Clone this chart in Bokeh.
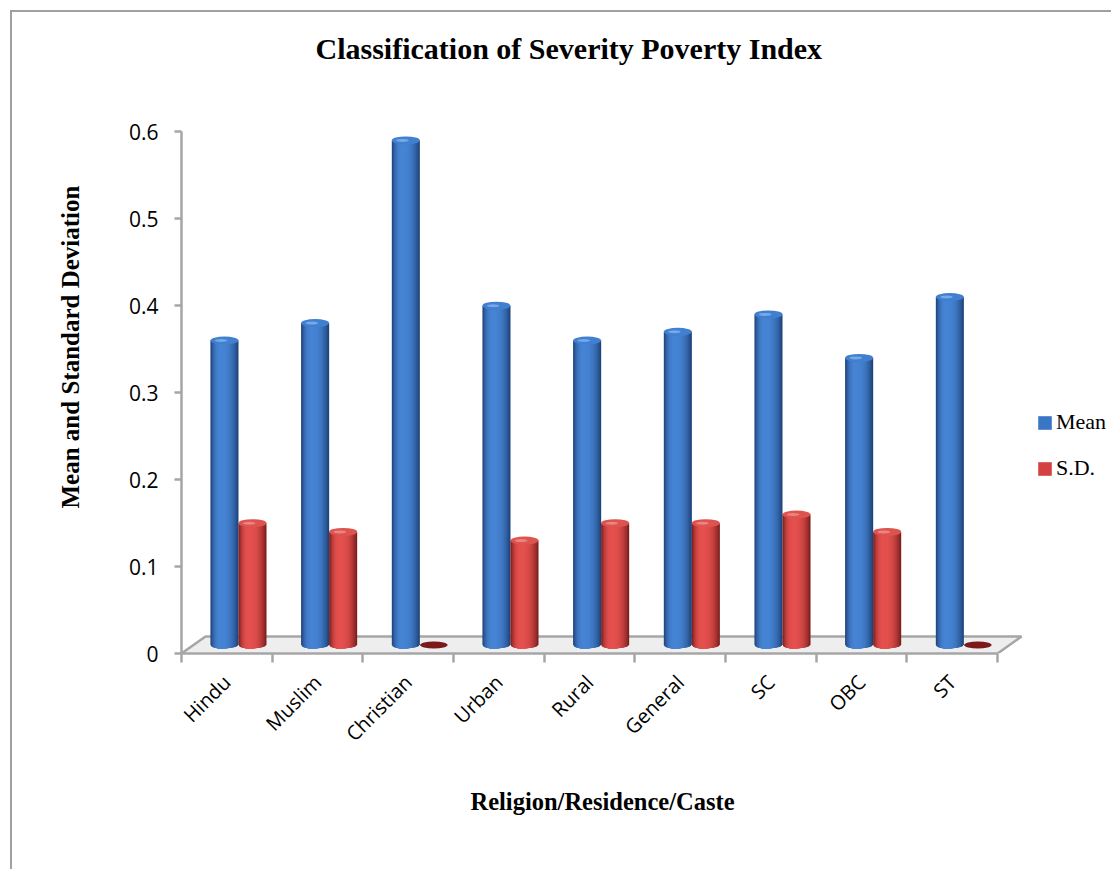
import numpy as np
from bokeh.plotting import figure
from bokeh.models import (Range1d, FixedTicker, Legend, LegendItem,
                          ColumnDataSource, Title)
from bokeh.embed import file_html
from bokeh.resources import INLINE

# ---- data -------------------------------------------------------------
categories = ["Hindu", "Muslim", "Christian", "Urban", "Rural",
              "General", "SC", "OBC", "ST"]
mean_vals = [0.35, 0.37, 0.58, 0.39, 0.35, 0.36, 0.38, 0.33, 0.40]
sd_vals = [0.14, 0.13, 0.0, 0.12, 0.14, 0.14, 0.15, 0.13, 0.0]
y_ticks = [0, 0.1, 0.2, 0.3, 0.4, 0.5, 0.6]
y_tick_labels = ["0", "0.1", "0.2", "0.3", "0.4", "0.5", "0.6"]

# ---- geometry (pixels) -------------------------------------------------
FIG_W, FIG_H = 1101, 859
FRAME_LEFT, FRAME_TOP, FRAME_BOTTOM = 169, 68, 218
FRAME_W = FIG_W - FRAME_LEFT
FRAME_H = FIG_H - FRAME_TOP - FRAME_BOTTOM
PX_PER_CAT = 90.67
PX_PER_UNIT = 870.0

n_cat = len(categories)
x_end = FRAME_W / PX_PER_CAT
y_end = FRAME_H / PX_PER_UNIT

# pseudo-3D floor depth and bar placement (category / value units)
DEPTH_X = 0.265
DEPTH_Y = 17.0 / PX_PER_UNIT
BASE = DEPTH_Y / 2
BAR_W = 0.309
MEAN_POS = 0.474
SD_POS = 0.783
CAP_H = 8  # screen px

GRAY = "#A6A6A6"
SERIF = "Liberation Serif"

p = figure(width=FIG_W, height=FIG_H,
           x_range=Range1d(0, x_end), y_range=Range1d(0, y_end),
           min_border_left=FRAME_LEFT, min_border_right=0,
           min_border_top=FRAME_TOP, min_border_bottom=FRAME_BOTTOM,
           output_backend="svg", toolbar_location=None,
           title="Classification of Severity Poverty Index")
p.margin = (10, 0, 0, 10)
p.styles = {"border-top": "2px solid #A0A0A0",
            "border-left": "2px solid #A0A0A0"}
p.outline_line_color = None
p.xgrid.visible = False
p.ygrid.visible = False
p.background_fill_color = "white"
p.border_fill_color = "white"

# title
p.title.align = "left"
p.title.offset = 134
p.title.text_font = SERIF
p.title.text_font_size = "30px"
p.title.text_font_style = "bold"
p.title.text_color = "black"
p.title.standoff = 31

# floor
p.patch([0, n_cat, n_cat + DEPTH_X, DEPTH_X], [0, 0, DEPTH_Y, DEPTH_Y],
        fill_color="#EEEEEE", line_color=None)
p.line([0, DEPTH_X, n_cat + DEPTH_X, n_cat], [0, DEPTH_Y, DEPTH_Y, 0],
       line_color=GRAY, line_width=2.5)


def hexcol(c):
    return "#%02x%02x%02x" % tuple(int(round(v)) for v in c)


def cylinder(values, pos, dark, light, cap, cap_hi, flat):
    # shaded cylinder built from nested strips that shrink toward the
    # highlight line; each strip is painted over the previous, wider one
    nsl = 24
    hl = -0.25                       # highlight position across the bar
    s = np.linspace(0, 1, nsl, endpoint=False)
    lefts = -1 + s * (hl + 1)
    rights = 1 - s * (1 - hl)
    shade = 1 - (1 - s) ** 2.6
    dark, light = np.array(dark), np.array(light)
    cols = [hexcol(dark + (light - dark) * t) for t in shade]
    drop = (CAP_H / 2 / PX_PER_UNIT) * np.sqrt(
        np.clip(1 - np.maximum(np.abs(lefts), np.abs(rights)) ** 2, 0, 1))
    L, R, B, T, C = [], [], [], [], []
    cx, cy, zx = [], [], []
    for i, v in enumerate(values):
        xc = i + pos
        if v > 0:
            for k in range(nsl):
                L.append(xc + lefts[k] * BAR_W / 2)
                R.append(xc + rights[k] * BAR_W / 2)
                B.append(BASE - drop[k])
                T.append(v + BASE)
                C.append(cols[k])
            cx.append(xc)
            cy.append(v + BASE)
        else:
            zx.append(xc)
    src = ColumnDataSource(dict(left=L, right=R, bottom=B, top=T, color=C))
    p.quad(left="left", right="right", bottom="bottom", top="top",
           fill_color="color", line_color=None, source=src)
    p.ellipse(x=cx, y=cy, width=BAR_W, height=CAP_H, height_units="screen",
              fill_color=cap, line_color=None)
    p.ellipse(x=[x - BAR_W * 0.12 for x in cx], y=cy, width=BAR_W * 0.45,
              height=3, height_units="screen", fill_color=cap_hi,
              fill_alpha=0.7, line_color=None)
    if zx:
        p.ellipse(x=zx, y=[BASE] * len(zx), width=BAR_W * 0.98, height=7,
                  height_units="screen", fill_color=flat, line_color=None)


cylinder(mean_vals, MEAN_POS, (30, 66, 120), (70, 132, 212),
         "#417FD0", "#8DBBF0", "#1F4A85")
cylinder(sd_vals, SD_POS, (122, 30, 30), (228, 80, 78),
         "#DC5350", "#F29A95", "#7A1A1A")

# y axis
ya = p.yaxis[0]
ya.ticker = FixedTicker(ticks=y_ticks)
ya.bounds = (0, 0.6)
ya.major_label_overrides = dict(zip(y_ticks, y_tick_labels))
ya.axis_line_color = GRAY
ya.axis_line_width = 2.5
ya.major_tick_line_color = GRAY
ya.major_tick_line_width = 2.5
ya.major_tick_out = 7
ya.major_tick_in = 0
ya.minor_tick_line_color = None
ya.major_label_text_font = "Open Sans"
ya.major_label_text_font_size = "21px"
ya.major_label_text_color = "black"
ya.major_label_standoff = 16

# x axis: boundary ticks as minor ticks, labels at category centres
xa = p.xaxis[0]
centres = [i + 0.5 for i in range(n_cat)]
xa.ticker = FixedTicker(ticks=centres, minor_ticks=list(range(n_cat + 1)))
xa.bounds = (0, n_cat)
xa.major_label_overrides = dict(zip(centres, categories))
xa.major_label_orientation = np.pi / 4
xa.axis_line_color = GRAY
xa.axis_line_width = 2.5
xa.major_tick_line_color = None
xa.major_tick_out = 0
xa.major_tick_in = 0
xa.minor_tick_line_color = GRAY
xa.minor_tick_line_width = 2.5
xa.minor_tick_out = 9
xa.minor_tick_in = 0
xa.major_label_text_font = "Open Sans"
xa.major_label_text_font_size = "20px"
xa.major_label_text_color = "black"
xa.major_label_standoff = 16

# axis titles
p.add_layout(Title(text="Mean and Standard Deviation", align="left",
                   offset=145, standoff=83, text_font=SERIF,
                   text_font_size="25px", text_font_style="bold",
                   text_color="black"), "left")
p.add_layout(Title(text="Religion/Residence/Caste", align="left",
                   offset=289, standoff=52, text_font=SERIF,
                   text_font_size="24.5px", text_font_style="bold",
                   text_color="black"), "below")

# legend (zero-height proxies carry the series colours)
r_mean = p.vbar(x=[0], bottom=[0], top=[0], width=0.1,
                fill_color="#3A76C6", line_color=None)
r_sd = p.vbar(x=[0], bottom=[0], top=[0], width=0.1,
              fill_color="#D44240", line_color=None)
legend = Legend(items=[LegendItem(label="Mean", renderers=[r_mean]),
                       LegendItem(label="S.D.", renderers=[r_sd])],
                location=(855, 172), orientation="vertical",
                label_text_font=SERIF,
                label_text_font_size="22px", label_text_color="black",
                glyph_width=17, glyph_height=17, label_standoff=3,
                label_height=25, spacing=20, padding=0, margin=0,
                border_line_color=None, background_fill_alpha=0)
p.add_layout(legend)

open("out.html", "w").write(file_html(p, INLINE))
